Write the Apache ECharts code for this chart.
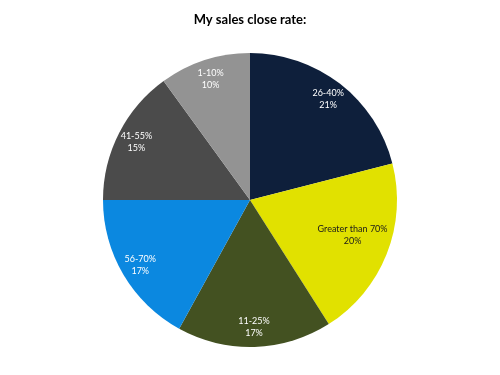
<!DOCTYPE html>
<html>
<head>
<meta charset="utf-8">
<script src="https://cdn.jsdelivr.net/npm/echarts@6/dist/echarts.min.js"></script>
<style>html,body{margin:0;padding:0;background:#fff}#c{width:500px;height:375px}</style>
</head>
<body>
<div id="c"></div>
<script>
const categories = ['26-40%', 'Greater than 70%', '11-25%', '56-70%', '41-55%', '1-10%'];
const values = [21, 20, 17, 17, 15, 10];
const colors = ['#0e1f3b', '#e1e100', '#435121', '#0b88e0', '#4b4b4b', '#939393'];
const labelColors = ['#ffffff', '#1a1a1a', '#ffffff', '#ffffff', '#ffffff', '#ffffff'];

const chart = echarts.init(document.getElementById('c'));
const pieData = categories.map((n, i) => ({ name: n, value: values[i], itemStyle: { color: colors[i] } }));
const labelData = categories.map((n, i) => ({
  name: n, value: values[i],
  label: { color: labelColors[i] }
}));
chart.setOption({
  animation: false,
  title: {
    text: 'My sales close rate:',
    left: 'center', top: 8,
    textStyle: { fontFamily: 'Lato', fontWeight: 'bold', fontSize: 13, color: '#000' }
  },
  series: [
    {
      type: 'pie', center: [250, 200], radius: [0, 147], startAngle: 90, clockwise: true,
      silent: true, label: { show: false }, labelLine: { show: false },
      itemStyle: { borderWidth: 0 },
      data: pieData
    },
    {
      type: 'pie', center: [250, 200], radius: [105, 144], startAngle: 90, clockwise: true,
      silent: true,
      itemStyle: { color: 'rgba(0,0,0,0)', borderWidth: 0 },
      label: {
        show: true, position: 'inside', formatter: '{b}\n{c}%',
        fontFamily: 'Lato', fontSize: 9, lineHeight: 12, align: 'center'
      },
      labelLine: { show: false },
      labelLayout: function (p) {
        if (p.dataIndex === 1) return { dx: -16, dy: -12 };
        return {};
      },
      data: labelData
    }
  ]
});
</script>
</body>
</html>
